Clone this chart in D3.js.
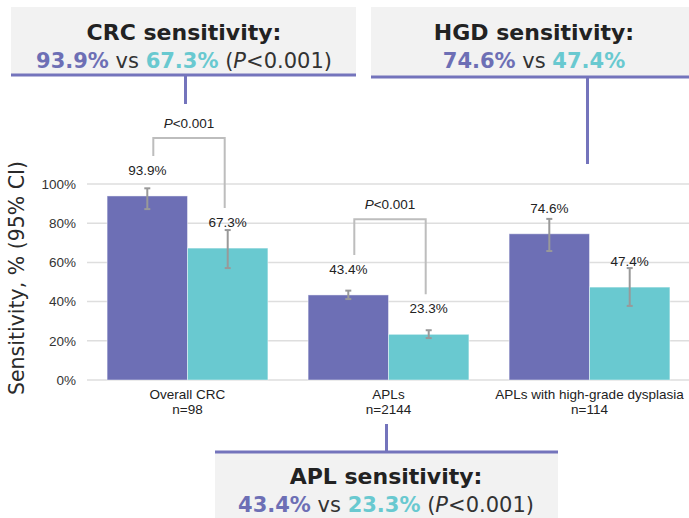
<!DOCTYPE html>
<html>
<head>
<meta charset="utf-8">
<script src="https://cdn.jsdelivr.net/npm/d3@7"></script>
<style>
  body { margin: 0; background: #fff; }
  svg { display: block; }
</style>
</head>
<body>
<svg id="chart" width="689" height="518"></svg>
<script>
// data
const groups = ['Overall CRC', 'APLs', 'APLs with high-grade dysplasia']
const groupN = ['n=98', 'n=2144', 'n=114']
const series = ['A', 'B']
const valuesA = [93.9, 43.4, 74.6]
const valuesB = [67.3, 23.3, 47.4]
const ciLowA = [87.2, 41.3, 65.8]
const ciHighA = [97.8, 45.6, 82.2]
const ciLowB = [57.1, 21.4, 37.8]
const ciHighB = [76.5, 25.4, 57.1]
const yTicks = [0, 20, 40, 60, 80, 100]
const pLabels = ['P<0.001', 'P<0.001', null]
const bracketTop = [123.5, 82, null]

const purple = '#6d6fb5'
const teal = '#69c9d0'
const lineCol = '#7474bc'
const sans = '"Liberation Sans", Arial, sans-serif'

const svg = d3.select('#chart')

const x = d3.scaleBand().domain(groups).range([87, 690]).paddingInner(0.2).paddingOuter(0.1)
const xs = d3.scaleBand().domain(series).range([0, x.bandwidth()])
const y = d3.scaleLinear().domain([0, 100]).range([380, 184])

// grid
svg.append('g').selectAll('line').data(yTicks).enter().append('line')
  .attr('x1', 87).attr('x2', 689)
  .attr('y1', d => y(d)).attr('y2', d => y(d))
  .attr('stroke', '#dedede').attr('stroke-width', 1.5)

// y axis
const yAxis = svg.append('g').attr('transform', 'translate(80,0)')
  .call(d3.axisLeft(y).tickValues(yTicks).tickSize(0).tickFormat(d => d + '%'))
yAxis.select('.domain').remove()
yAxis.selectAll('text').attr('font-family', sans)
  .attr('font-size', 13.5).attr('fill', '#333').attr('dx', -1)

svg.append('text')
  .attr('transform', 'translate(24,278) rotate(-90)')
  .attr('text-anchor', 'middle')
  .attr('font-family', '"DejaVu Sans", sans-serif')
  .attr('font-size', 20.5).attr('fill', '#2a2a2a')
  .text('Sensitivity, % (95% CI)')

// rows
const rows = groups.map((g, i) => [
  {g: g, s: 'A', v: valuesA[i], lo: ciLowA[i], hi: ciHighA[i], c: purple},
  {g: g, s: 'B', v: valuesB[i], lo: ciLowB[i], hi: ciHighB[i], c: teal}
])
const flat = rows.flat()
const cx = d => x(d.g) + xs(d.s) + xs.bandwidth() / 2

svg.append('g').selectAll('rect').data(flat).enter().append('rect')
  .attr('x', d => x(d.g) + xs(d.s))
  .attr('y', d => y(d.v))
  .attr('width', xs.bandwidth())
  .attr('height', d => y(0) - y(d.v))
  .attr('fill', d => d.c)
  .attr('stroke', 'rgba(255,255,255,0.45)').attr('stroke-width', 1)

// error bars
const err = svg.append('g').attr('stroke', '#999').attr('stroke-width', 2)
flat.forEach(d => {
  err.append('line').attr('x1', cx(d)).attr('x2', cx(d)).attr('y1', y(d.lo)).attr('y2', y(d.hi))
  err.append('line').attr('x1', cx(d) - 3).attr('x2', cx(d) + 3).attr('y1', y(d.lo)).attr('y2', y(d.lo))
  err.append('line').attr('x1', cx(d) - 3).attr('x2', cx(d) + 3).attr('y1', y(d.hi)).attr('y2', y(d.hi))
})

// value labels
svg.append('g').selectAll('text').data(flat).enter().append('text')
  .attr('x', cx).attr('y', d => y(d.v) - 21)
  .attr('text-anchor', 'middle')
  .attr('font-family', sans)
  .attr('font-size', 13.5).attr('fill', '#222')
  .text(d => d.v.toFixed(1) + '%')

// category labels
const xl = svg.append('g')
groups.forEach((g, i) => {
  const t = xl.append('text').attr('x', x(g) + x.bandwidth() / 2).attr('y', 399)
    .attr('text-anchor', 'middle')
    .attr('font-family', sans)
    .attr('font-size', 13.5).attr('fill', '#222')
  t.append('tspan').text(g)
  t.append('tspan').attr('x', x(g) + x.bandwidth() / 2).attr('dy', 15).text(groupN[i])
})

// significance brackets
rows.forEach((r, i) => {
  if (!pLabels[i]) return
  const x1 = cx(r[0]) + 6
  const x2 = cx(r[1]) - 3
  const top = y(bracketTop[i])
  const y1 = y(r[0].v) - 40
  const y2 = y(r[1].v) - 40
  svg.append('path')
    .attr('d', 'M' + x1 + ',' + y1 + 'V' + top + 'H' + x2 + 'V' + y2)
    .attr('fill', 'none').attr('stroke', '#bdbdbd').attr('stroke-width', 2)
  const t = svg.append('text').attr('x', (x1 + x2) / 2).attr('y', top - 10)
    .attr('text-anchor', 'middle')
    .attr('font-family', sans)
    .attr('font-size', 13.5).attr('fill', '#222')
  t.append('tspan').attr('font-style', 'italic').text('P')
  t.append('tspan').text('<0.001')
})

// callout boxes
const callouts = [
  {x: 11, w: 345, y: 7, h: 68, line: 'bottom', cx: 184, title: 'CRC sensitivity:', a: valuesA[0], b: valuesB[0], p: true, i: 0, ty: 40},
  {x: 371, w: 318, y: 7, h: 70, line: 'bottom', cx: 534, title: 'HGD sensitivity:', a: valuesA[2], b: valuesB[2], p: false, i: 2, ty: 40},
  {x: 215, w: 343, y: 452, h: 66, line: 'top', cx: 386, title: 'APL sensitivity:', a: valuesA[1], b: valuesB[1], p: true, i: 1, ty: 484}
]
callouts.forEach(c => {
  svg.append('rect').attr('x', c.x).attr('y', c.y).attr('width', c.w).attr('height', c.h).attr('fill', '#f2f2f2')
  const ly = c.line === 'bottom' ? c.y + c.h : c.y
  svg.append('line').attr('x1', c.x).attr('x2', c.x + c.w).attr('y1', ly).attr('y2', ly)
    .attr('stroke', lineCol).attr('stroke-width', 3)
  const gx = x(groups[c.i]) + x.bandwidth() / 2
  const ey = c.line === 'bottom' ? (c.i === 0 ? 104 : 164) : 424
  svg.append('line').attr('x1', gx - 2).attr('x2', gx - 2).attr('y1', ly).attr('y2', ey)
    .attr('stroke', lineCol).attr('stroke-width', 3)
  svg.append('text').attr('x', c.cx).attr('y', c.ty).attr('text-anchor', 'middle')
    .attr('font-family', '"DejaVu Sans", sans-serif').attr('font-weight', 700)
    .attr('font-size', 22).attr('fill', '#222').text(c.title)
  const t = svg.append('text').attr('x', c.cx).attr('y', c.ty + 28).attr('text-anchor', 'middle')
    .attr('font-family', '"DejaVu Sans", sans-serif').attr('font-size', 21).attr('fill', '#333')
  t.append('tspan').attr('font-weight', 700).attr('fill', purple).text(c.a.toFixed(1) + '%')
  t.append('tspan').text(' vs ')
  t.append('tspan').attr('font-weight', 700).attr('fill', teal).text(c.b.toFixed(1) + '%')
  if (c.p) {
    t.append('tspan').text(' (')
    t.append('tspan').attr('font-style', 'italic').text('P')
    t.append('tspan').text('<0.001)')
  }
})
</script>
</body>
</html>
